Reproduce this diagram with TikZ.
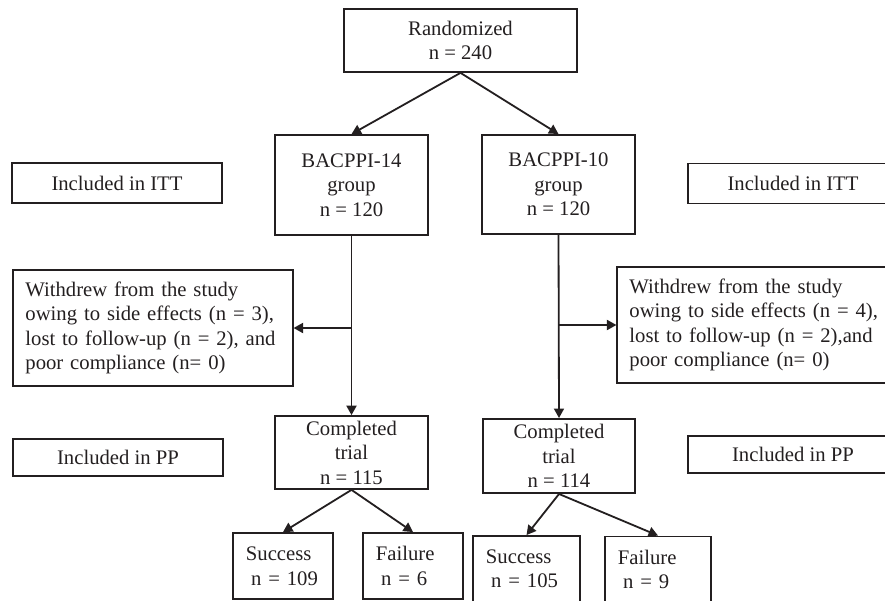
\documentclass[tikz,border=0pt]{standalone}
\usepackage{fontspec}
\setmainfont{Liberation Serif}
\usetikzlibrary{arrows.meta}
\definecolor{ink}{HTML}{231F20}

\begin{document}
\begin{tikzpicture}[x=0.58pt, y=-0.58pt,
	box/.style={draw=ink, line width=1.05pt, text=ink, align=center, inner sep=0pt, font=\fontsize{12}{14.2}\selectfont},
	note/.style={box, align=left, inner xsep=7pt, text width=148pt, minimum height=67.3pt},
	res/.style={box, align=left, inner xsep=7.5pt, minimum height=38.3pt},
	arr/.style={draw=ink, line width=1.05pt, -{Triangle[length=5.5pt, width=5.8pt]}}]
	\clip (0, 0) rectangle (885, 600);
	\node (rand) [box, minimum width=135pt, minimum height=36.5pt] at (460.5, 40.5) {Randomized\\n = 240};
	\node (b14) [box, minimum width=88.7pt, minimum height=58pt] at (351.5, 185) {BACPPI-14\\group\\n = 120};
	\node (b10) [box, minimum width=88.7pt, minimum height=57.5pt] at (558.5, 184.5) {BACPPI-10\\group\\n = 120};
	\node (itt1) [box, minimum width=121.8pt, minimum height=23.2pt] at (117, 183) {Included in ITT};
	\node (itt2) [box, minimum width=121.8pt, minimum height=23.2pt] at (793, 183.5) {Included in ITT};
	% withdrawals
	\node (w14) [note] at (153, 328) {Withdrew from the study\\owing to side effects (n = 3),\\lost to follow-up (n = 2), and\\poor compliance (n= 0)};
	\node (w10) [note] at (757, 325) {Withdrew from the study\\owing to side effects (n = 4),\\lost to follow-up (n = 2),and\\poor compliance (n= 0)};
	\coordinate (j14) at (b14.south |- w14.east);
	\coordinate (j10) at (b10.south |- w10.west);
	% per protocol
	\node (pp1) [box, minimum width=121.8pt, minimum height=21.5pt] at (118, 457.5) {Included in PP};
	\node (pp2) [box, minimum width=121.8pt, minimum height=21.5pt] at (793, 454.5) {Included in PP};
	\node (c14) [box, minimum width=88.7pt, minimum height=42.3pt] at (351.5, 452.5) {Completed\\trial\\n = 115};
	\node (c10) [box, minimum width=88.2pt, minimum height=43pt] at (559, 456) {Completed\\trial\\n = 114};
	\node (s14) [res, text width=43pt] at (283, 566) {Success\\\hspace{3pt}n = 109};
	\node (f14) [res, text width=43pt] at (413, 566) {Failure\\\hspace{3pt}n = 6};
	\node (s10) [res, text width=47pt] at (526.5, 569) {Success\\\hspace{3pt}n = 105};
	\node (f10) [res, text width=46.5pt] at (658, 569.5) {Failure\\\hspace{3pt}n = 9};
	\draw[arr] (rand.south) -- (b14.north);
	\draw[arr] (rand.south) -- (b10.north);
	\draw[arr] (b14.south) -- (c14.north);
	\draw[arr] (b10.south) -- (c10.north);
	\draw[arr] (j14) -- (w14.east);
	\draw[arr] (j10) -- (w10.west);
	\draw[arr] (c14.south) -- (s14.north);
	\draw[arr] (c14.south) -- (f14.north);
	\draw[arr] (c10.south) -- (s10.north);
	\draw[arr] (c10.south) -- (f10.north);
\end{tikzpicture}
\end{document}
